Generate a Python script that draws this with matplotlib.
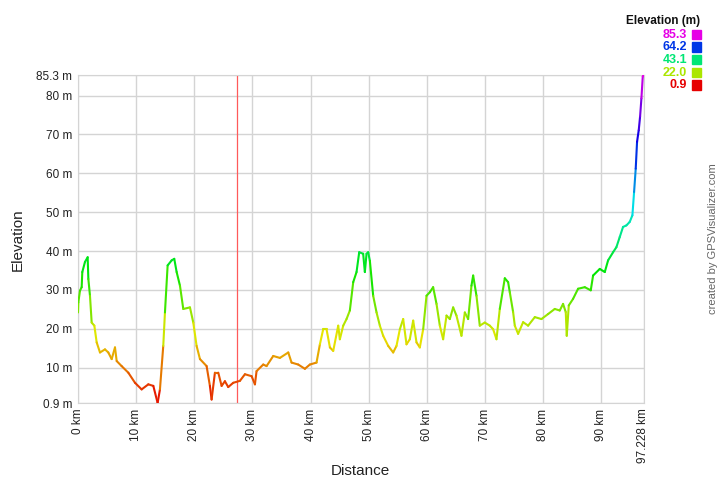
import matplotlib
matplotlib.use('Agg')
import numpy as np
import matplotlib.pyplot as plt
from matplotlib.collections import LineCollection
from matplotlib.colors import LinearSegmentedColormap, Normalize

plt.rcParams['font.family'] = ['Liberation Sans', 'DejaVu Sans']

# profile (km, m)
distance_km = [0.0, 0.06, 0.34, 0.63, 0.74, 1.20, 1.66, 1.78, 2.06, 2.35, 2.81, 3.21, 3.78,
               4.64, 5.21, 5.79, 6.36, 6.65, 7.50, 8.65, 9.80, 10.94, 12.09, 12.95, 13.69,
               14.09, 14.66, 14.95, 15.41, 16.10, 16.55, 16.96, 17.53, 18.10, 19.25, 19.82,
               20.39, 20.97, 22.11, 22.68, 22.97, 23.54, 24.12, 24.69, 25.26, 25.83, 26.69,
               27.84, 28.70, 29.85, 30.42, 30.70, 31.85, 32.42, 33.57, 34.71, 36.15, 36.72,
               37.86, 39.01, 39.87, 41.01, 41.59, 42.16, 42.73, 43.31, 43.88, 44.74, 45.02,
               45.60, 46.17, 46.74, 47.32, 47.89, 48.35, 49.03, 49.32, 49.61, 49.89, 50.18,
               50.75, 51.33, 51.90, 52.47, 53.33, 54.19, 54.76, 55.34, 55.91, 56.48, 57.05,
               57.63, 58.20, 58.77, 59.35, 59.92, 60.49, 61.06, 61.64, 62.21, 62.78, 63.36,
               63.93, 64.50, 65.07, 65.93, 66.51, 67.08, 67.65, 67.94, 68.51, 69.08, 69.94,
               70.80, 71.37, 71.95, 72.52, 73.38, 73.95, 74.24, 74.81, 75.10, 75.67, 76.53,
               77.39, 78.54, 79.68, 80.83, 81.97, 82.83, 83.40, 83.86, 84.03, 84.38, 85.12,
               85.98, 87.13, 88.16, 88.56, 89.71, 90.57, 91.14, 92.00, 92.57, 93.14, 93.71,
               94.29, 94.86, 95.32, 95.61, 95.89, 96.12, 96.41, 96.64, 96.87, 97.10, 97.228]
elevation_m = [24.2, 26.8, 29.8, 30.7, 34.6, 37.2, 38.4, 32.8, 28.5, 21.6, 20.8, 16.5, 13.9,
               14.7, 13.9, 12.2, 15.2, 11.7, 10.4, 8.7, 6.1, 4.4, 5.7, 5.3, 0.9,
               4.4, 15.6, 24.2, 36.3, 37.6, 38.0, 34.6, 31.1, 25.1, 25.5, 21.6,
               15.6, 12.2, 10.4, 5.3, 1.8, 8.7, 8.7, 5.3, 6.5, 5.0, 6.1,
               6.6, 8.3, 7.8, 5.7, 9.1, 10.8, 10.4, 13.0, 12.5, 13.9, 11.3,
               10.8, 9.7, 10.8, 11.3, 16.0, 19.9, 19.9, 15.2, 14.3, 20.8, 17.3,
               20.8, 22.5, 24.7, 32.0, 34.6, 39.7, 39.3, 34.6, 39.3, 39.7, 37.5,
               28.5, 24.2, 20.8, 18.2, 15.6, 13.9, 15.6, 19.9, 22.5, 16.0, 17.3,
               22.1, 16.5, 15.2, 19.9, 28.5, 29.4, 30.7, 26.4, 20.8, 17.3, 23.4,
               22.5, 25.5, 23.4, 18.2, 24.2, 22.5, 31.1, 33.7, 28.5, 20.8, 21.6,
               20.8, 19.9, 17.3, 25.1, 33.0, 32.0, 29.4, 24.3, 20.8, 18.7, 21.7,
               20.8, 23.0, 22.5, 23.8, 25.1, 24.7, 26.4, 24.3, 18.2, 26.0, 27.7,
               30.3, 30.7, 29.9, 33.7, 35.4, 34.6, 37.6, 39.7, 41.0, 43.6, 46.2,
               46.6, 47.5, 49.2, 55.2, 61.2, 68.1, 71.1, 74.6, 79.3, 84.9, 85.3]

marker_km = 27.4
elev_min, elev_max = 0.9, 85.3
legend_values = [85.3, 64.2, 43.1, 22.0, 0.9]
x_ticks = [0, 10, 20, 30, 40, 50, 60, 70, 80, 90, 97.228]
x_labels = ['0 km', '10 km', '20 km', '30 km', '40 km', '50 km', '60 km', '70 km', '80 km', '90 km', '97.228 km']
y_ticks = [0.9, 10, 20, 30, 40, 50, 60, 70, 80, 85.3]
y_labels = ['0.9 m', '10 m', '20 m', '30 m', '40 m', '50 m', '60 m', '70 m', '80 m', '85.3 m']

# hue ramp red -> magenta, like the GPSVisualizer colouring
cmap = LinearSegmentedColormap.from_list(
    'elev', ['#e60000', '#e6e600', '#00e600', '#00e6e6', '#0000e6', '#e600e6'])
norm = Normalize(elev_min, elev_max)

fig = plt.figure(figsize=(7.2, 4.8), dpi=100)
ax = fig.add_axes([78 / 720, 77 / 480, 565.5 / 720, 328 / 480])

x = np.array(distance_km)
y = np.array(elevation_m)
pts = np.column_stack([x, y]).reshape(-1, 1, 2)
segs = np.concatenate([pts[:-1], pts[1:]], axis=1)
lc = LineCollection(segs, cmap=cmap, norm=norm, linewidth=1.5, zorder=3, capstyle='round')
lc.set_array((y[:-1] + y[1:]) / 2)
ax.add_collection(lc)

ax.axvline(marker_km, color='#ff5a5a', lw=0.9, zorder=2)

ax.set_xlim(0, 97.228)
ax.set_ylim(elev_min, elev_max)
ax.set_xticks(x_ticks)
ax.set_xticklabels(x_labels, rotation=90, fontsize=8.5, color='#222222')
ax.set_yticks(y_ticks)
ax.set_yticklabels(y_labels, fontsize=8.5, color='#222222')
ax.tick_params(length=0, pad=4)
ax.grid(color='#d4d4d4', lw=1)
ax.set_axisbelow(True)
for s in ax.spines.values():
    s.set_color('#d4d4d4')

fig.text(360 / 720, 1 - 471 / 480, 'Distance', ha='center', va='center', fontsize=11, color='#222222')
fig.text(18 / 720, 1 - 240 / 480, 'Elevation', ha='center', va='center', rotation=90,
         fontsize=11, color='#222222')
fig.text(713 / 720, 1 - 239 / 480, 'created by GPSVisualizer.com', ha='center', va='center',
         rotation=90, fontsize=8, color='#666666')

# colour key in the upper right
fig.text(700 / 720, 1 - 21 / 480, 'Elevation (m)', ha='right', va='center',
         fontsize=8.5, fontweight='bold', color='#111111')
for i, v in enumerate(legend_values):
    yy = 1 - (34.5 + i * 12.7) / 480
    c = cmap(norm(v))
    fig.text(687 / 720, yy, f'{v:.1f}', ha='right', va='center', fontsize=9,
             fontweight='bold', color=c)
    fig.patches.append(plt.Rectangle((691.5 / 720, yy - 4.5 / 480), 9.5 / 720, 9.5 / 480,
                                     transform=fig.transFigure, color=c, figure=fig))

fig.savefig('out.png', dpi=100)
